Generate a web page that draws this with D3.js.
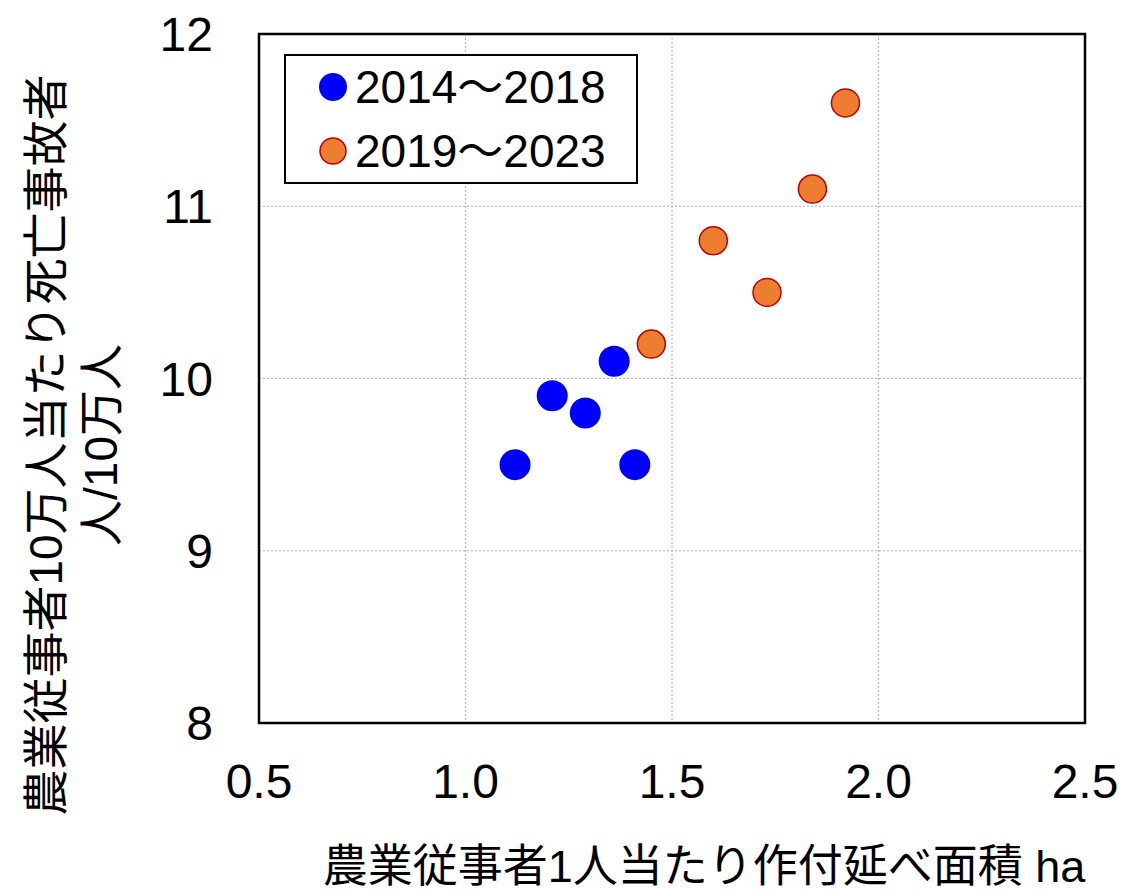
<!DOCTYPE html>
<html>
<head>
<meta charset="utf-8">
<script src="https://cdn.jsdelivr.net/npm/d3@7"></script>
<style>
  body { margin: 0; background: #fff; }
  text { font-family: "Liberation Sans", "Noto Sans CJK JP", sans-serif; fill: #000; }
</style>
</head>
<body>
<div id="chart"></div>
<script>
let groups = ["2014～2018", "2019～2023"]
let areaA = [1.12, 1.21, 1.29, 1.36, 1.41]
let rateA = [9.5, 9.9, 9.8, 10.1, 9.5]
let areaB = [1.45, 1.60, 1.73, 1.84, 1.92]
let rateB = [10.2, 10.8, 10.5, 11.1, 11.6]
let xTicks = [0.5, 1.0, 1.5, 2.0, 2.5]
let yTicks = [8, 9, 10, 11, 12]

let width = 1122, height = 894
let pLeft = 259, pRight = 1085, pTop = 34, pBottom = 723

let svg = d3.select("#chart").append("svg")
    .attr("width", width)
    .attr("height", height)

let x = d3.scaleLinear().domain([0.5, 2.5]).range([pLeft, pRight])
let y = d3.scaleLinear().domain([8, 12]).range([pBottom, pTop])

// grid
svg.append("g").selectAll("line")
    .data(xTicks.slice(1, -1))
    .enter().append("line")
    .attr("x1", d => x(d)).attr("x2", d => x(d))
    .attr("y1", pTop).attr("y2", pBottom)
    .attr("stroke", "#b0b0b0").attr("stroke-width", 1).attr("stroke-dasharray", "2,2")
svg.append("g").selectAll("line")
    .data(yTicks.slice(1, -1))
    .enter().append("line")
    .attr("x1", pLeft).attr("x2", pRight)
    .attr("y1", d => y(d)).attr("y2", d => y(d))
    .attr("stroke", "#b0b0b0").attr("stroke-width", 1).attr("stroke-dasharray", "2,2")

// frame
svg.append("rect")
    .attr("x", pLeft).attr("y", pTop)
    .attr("width", pRight - pLeft).attr("height", pBottom - pTop)
    .attr("fill", "none").attr("stroke", "#000").attr("stroke-width", 2.5)

// tick labels
svg.append("g").selectAll("text")
    .data(xTicks)
    .enter().append("text")
    .attr("x", d => x(d)).attr("y", 798)
    .attr("text-anchor", "middle")
    .attr("font-size", 48)
    .text(d => d3.format(".1f")(d))
svg.append("g").selectAll("text")
    .data(yTicks)
    .enter().append("text")
    .attr("x", 213).attr("y", d => y(d) + 17)
    .attr("text-anchor", "end")
    .attr("font-size", 48)
    .text(d => d)

// points
let ptsA = areaA.map((v, i) => ({ x: v, y: rateA[i] }))
let ptsB = areaB.map((v, i) => ({ x: v, y: rateB[i] }))
svg.append("g").selectAll("circle")
    .data(ptsA)
    .enter().append("circle")
    .attr("cx", d => x(d.x)).attr("cy", d => y(d.y))
    .attr("r", 15.5)
    .attr("fill", "#0000ff")
svg.append("g").selectAll("circle")
    .data(ptsB)
    .enter().append("circle")
    .attr("cx", d => x(d.x)).attr("cy", d => y(d.y))
    .attr("r", 14)
    .attr("fill", "#ed7d31").attr("stroke", "#c00000").attr("stroke-width", 1.5)

// legend
svg.append("rect")
    .attr("x", 285).attr("y", 55)
    .attr("width", 352).attr("height", 128)
    .attr("fill", "#fff").attr("stroke", "#000").attr("stroke-width", 2)
let leg = svg.append("g").selectAll("g")
    .data(groups)
    .enter().append("g")
    .attr("transform", (d, i) => "translate(0," + (87 + i * 64) + ")")
leg.append("circle")
    .attr("cx", 333).attr("cy", 0)
    .attr("r", (d, i) => i === 0 ? 14 : 13)
    .attr("fill", (d, i) => i === 0 ? "#0000ff" : "#ed7d31")
    .attr("stroke", (d, i) => i === 0 ? "none" : "#c00000")
    .attr("stroke-width", 1.5)
leg.append("text")
    .attr("x", 355).attr("y", 16)
    .attr("font-size", 46)
    .text(d => d)

// axis titles
svg.append("text")
    .attr("x", 704).attr("y", 882)
    .attr("text-anchor", "middle")
    .attr("font-size", 45)
    .text("農業従事者1人当たり作付延べ面積 ha")
svg.append("text")
    .attr("transform", "translate(62,445) rotate(-90)")
    .attr("text-anchor", "middle")
    .attr("font-size", 46)
    .text("農業従事者10万人当たり死亡事故者")
svg.append("text")
    .attr("transform", "translate(117,445) rotate(-90)")
    .attr("text-anchor", "middle")
    .attr("font-size", 46)
    .text("人/10万人")
</script>
</body>
</html>
